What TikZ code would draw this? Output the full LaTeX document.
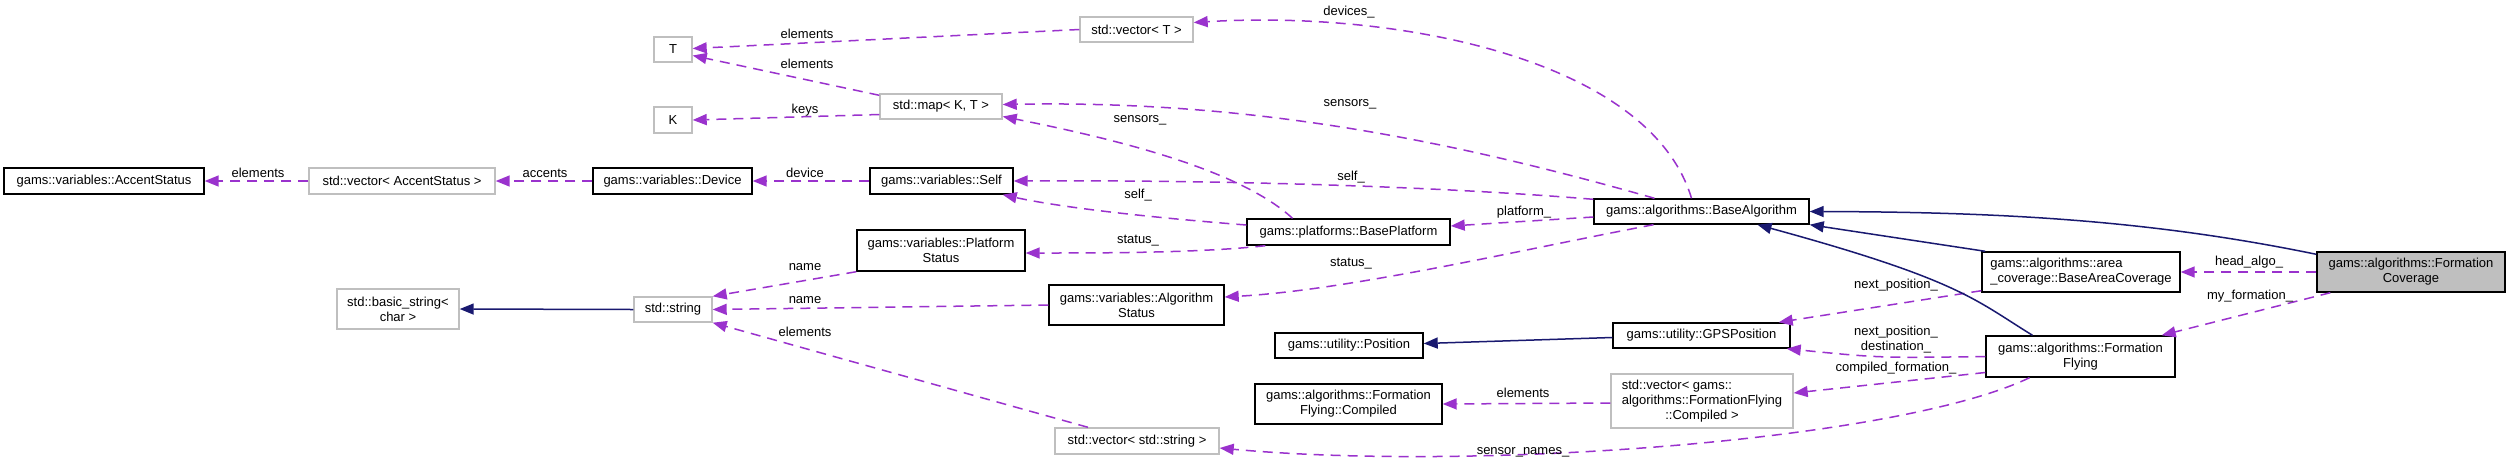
\documentclass[tikz,border=0pt]{standalone}
\usepackage{fontspec}
\setmainfont{Liberation Sans}
\usetikzlibrary{arrows.meta}
\definecolor{edgepurple}{HTML}{9A32CD}
\definecolor{inhnavy}{HTML}{191970}
\definecolor{boxgray}{HTML}{BFBFBF}
\begin{document}
\begin{tikzpicture}[x=1pt,y=-1pt,
  every node/.style={font=\fontsize{13}{15}\selectfont, inner sep=0pt},
  doc/.style={draw=black, line width=1.4pt, fill=white, align=center, rectangle},
  ext/.style={draw=boxgray, line width=1.4pt, fill=white, align=center, rectangle},
  lbl/.style={align=center},
  member/.style={draw=edgepurple, dash pattern=on 10pt off 7pt, line width=1.5pt, -{Triangle[length=14pt,width=11pt]}},
  inherit/.style={draw=inhnavy, line width=1.5pt, -{Triangle[length=14pt,width=11pt]}}
]
\fill[white] (0,0) rectangle (2511,467);
\useasboundingbox (0,0) rectangle (2511,467);

% nodes
\node[doc, minimum width=200pt, minimum height=26pt] (acc) at (104,181) {gams::variables::AccentStatus};
\node[ext, minimum width=186pt, minimum height=26pt] (vacc) at (402,181) {std::vector< AccentStatus >};
\node[doc, minimum width=159pt, minimum height=26pt] (dev) at (672.5,181) {gams::variables::Device};
\node[doc, minimum width=143pt, minimum height=26pt] (self) at (941.5,181) {gams::variables::Self};
\node[ext, minimum width=38pt, minimum height=25pt] (T) at (673,49.5) {T};
\node[ext, minimum width=38pt, minimum height=26pt] (K) at (673,120) {K};
\node[ext, minimum width=122pt, minimum height=25pt] (map) at (941,106.5) {std::map< K, T >};
\node[ext, minimum width=113pt, minimum height=25pt] (vecT) at (1136.5,29.5) {std::vector< T >};
\node[doc, minimum width=168pt, minimum height=41pt] (pstat) at (941,250.5) {gams::variables::Platform\\Status};
\node[doc, minimum width=203pt, minimum height=26pt] (bplat) at (1348.5,232) {gams::platforms::BasePlatform};
\node[doc, minimum width=175pt, minimum height=40pt] (astat) at (1136.5,305) {gams::variables::Algorithm\\Status};
\node[ext, minimum width=78pt, minimum height=25pt] (str) at (673,309.5) {std::string};
\node[ext, minimum width=122pt, minimum height=40pt] (bstr) at (398,309) {std::basic\_string<\\char >};
\node[doc, minimum width=215pt, minimum height=25pt] (balg) at (1701.5,211.5) {gams::algorithms::BaseAlgorithm};
\node[doc, minimum width=198pt, minimum height=40pt, align=left] (bac) at (2081,272) {gams::algorithms::area\\\_coverage::BaseAreaCoverage};
\node[doc, fill=boxgray, minimum width=188pt, minimum height=40pt] (fc) at (2411,272) {gams::algorithms::Formation\\Coverage};
\node[doc, minimum width=177pt, minimum height=25pt] (gps) at (1701.5,335.5) {gams::utility::GPSPosition};
\node[doc, minimum width=148pt, minimum height=25pt] (pos) at (1349,345.5) {gams::utility::Position};
\node[doc, minimum width=187pt, minimum height=40pt] (comp) at (1348.5,404) {gams::algorithms::Formation\\Flying::Compiled};
\node[ext, minimum width=182pt, minimum height=54pt] (vcomp) at (1702,401) {\begin{tabular}{@{}l@{}}std::vector< gams::\\algorithms::FormationFlying\\\multicolumn{1}{@{}c@{}}{::Compiled >}\end{tabular}};
\node[ext, minimum width=164pt, minimum height=26pt] (vstr) at (1137,441) {std::vector< std::string >};
\node[doc, minimum width=189pt, minimum height=41pt] (ff) at (2080.5,356.5) {gams::algorithms::Formation\\Flying};

% member edges
\draw[member] (vacc.west) -- (acc.east);
\draw[member] (dev.west) -- (vacc.east);
\draw[member] (self.west) -- (dev.east);
\draw[member] (vecT.west) -- ([yshift=1pt]T.east);
\draw[member] ([yshift=-2pt]map.north west) -- ([yshift=-6pt]T.east);
\draw[member] ([yshift=-8pt]map.west) -- (K.east);
\draw[member] ([xshift=-10pt]balg.north) .. controls (1650,60) and (1400,10) .. ([yshift=7pt]vecT.east);
\draw[member] ([xshift=-47pt]balg.north) .. controls (1450,140) and (1250,100) .. ([yshift=2pt]map.east);
\draw[member] ([xshift=-56pt]bplat.north) .. controls (1240,170) and (1120,140) .. ([yshift=-10pt]map.east);
\draw[member] ([yshift=-1pt]balg.north west) .. controls (1420,185) and (1200,180) .. (self.east);
\draw[member] ([yshift=7pt]bplat.west) .. controls (1120,215) and (1050,205) .. ([xshift=-11pt]self.south east);
\draw[member] ([xshift=19pt]bplat.south west) .. controls (1200,253) and (1100,253) .. ([yshift=-2.5pt]pstat.east);
\draw[member] ([yshift=-5.5pt]balg.west) -- ([yshift=6pt]bplat.east);
\draw[member] ([xshift=-48pt]balg.south) .. controls (1520,250) and (1350,290) .. ([yshift=8pt]astat.east);
\draw[member] (pstat.south west) -- (str.north east);
\draw[member] (astat.west) -- (str.east);
\draw[member] ([xshift=-49pt]vstr.north) -- (str.south east);
\draw[member] ([yshift=2pt]bac.south west) -- ([xshift=-12pt]gps.north east);
\draw[member] (ff.west) .. controls (1880,358) .. ([xshift=-4pt]gps.south east);
\draw[member] ([yshift=-16pt]ff.west) -- ([yshift=8pt]vcomp.east);
\draw[member] ([yshift=-2pt]vcomp.west) -- (comp.east);
\draw[member] ([xshift=-51pt]ff.south) .. controls (1900,440) and (1480,472) .. ([yshift=-7pt]vstr.east);
\draw[member] (fc.west) -- (bac.east);
\draw[member] ([xshift=14pt]fc.south west) -- ([xshift=-14pt]ff.north east);

% inheritance edges
\draw[inherit] (str.west) -- (bstr.east);
\draw[inherit] ([yshift=-2pt]gps.west) -- ([yshift=2pt]pos.east);
\draw[inherit] ([xshift=4pt]bac.north west) -- (balg.south east);
\draw[inherit] ([yshift=-3pt]fc.north west) .. controls (2150,220) and (2000,212) .. (balg.east);
\draw[inherit] ([xshift=-48pt]ff.north) .. controls (1975,300) and (1960,280) .. ([xshift=56pt]balg.south);

% labels
\node[lbl] (l1) at (258,173) {elements};
\node[lbl] (l2) at (545,173) {accents};
\node[lbl] (l3) at (805,173) {device};
\node[lbl] (l4) at (807,34) {elements};
\node[lbl] (l5) at (807,64) {elements};
\node[lbl] (l6) at (805,110) {keys};
\node[lbl] (l7) at (1349,12) {devices\_};
\node[lbl] (l8) at (1350,104) {sensors\_};
\node[lbl] (l9) at (1140,120) {sensors\_};
\node[lbl] (l10) at (1351,177) {self\_};
\node[lbl] (l11) at (1138,195) {self\_};
\node[lbl] (l12) at (1138,241) {status\_};
\node[lbl] (l13) at (1524,212) {platform\_};
\node[lbl] (l14) at (1351,264) {status\_};
\node[lbl] (l15) at (805,267) {name};
\node[lbl] (l16) at (805,300) {name};
\node[lbl] (l17) at (805,332) {elements};
\node[lbl] (l18) at (1896,285) {next\_position\_};
\node[lbl] (l19) at (1896,340) {next\_position\_\\destination\_};
\node[lbl] (l20) at (1896,368) {compiled\_formation\_};
\node[lbl] (l21) at (1523,393) {elements};
\node[lbl] (l22) at (1523,452) {sensor\_names\_};
\node[lbl] (l23) at (2249,262) {head\_algo\_};
\node[lbl] (l24) at (2250,296) {my\_formation\_};
\end{tikzpicture}
\end{document}
